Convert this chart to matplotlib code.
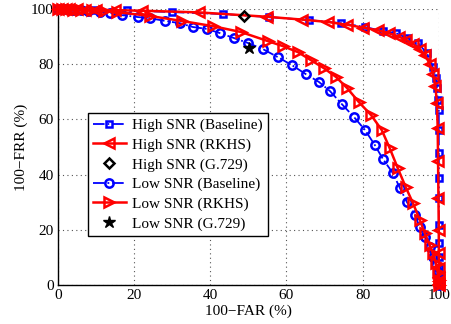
import matplotlib
matplotlib.use("Agg")
import matplotlib.pyplot as plt

# High SNR (Baseline)
hb_x = [0, 1, 2, 4, 6, 9.2, 18, 30, 43.3, 55.4, 66, 74.3, 80.6, 85.3, 88.7, 91.6, 94.5, 96.9, 98.4, 99.2, 99.5, 99.7,
        100, 100, 100, 100, 100, 100, 100, 100, 100, 100, 100, 100]
hb_y = [100, 100, 99.9, 99.9, 99.8, 99.6, 99.5, 98.9, 98.2, 97.1, 96, 94.9, 93.5, 92, 91.3, 89.5, 87.7, 84, 79, 75, 71.4, 67,
        63.4, 56, 47.8, 38.8, 31.5, 21.7, 15.2, 10, 6, 3, 1, 0]

# High SNR (RKHS)
hr_x = [0, 1, 2, 3, 5, 7, 10, 15, 22, 37, 55, 64, 71, 76, 80, 84, 87, 89.5, 91.5, 93.3, 95, 96.4, 97.6, 98.5, 99.1, 99.5,
        99.7, 99.8, 99.9, 100, 100, 100, 100, 100, 100, 100]
hr_y = [100, 100, 100, 99.9, 99.9, 99.8, 99.7, 99.6, 99.4, 98.8, 97.2, 96.2, 95.3, 94.3, 93.3, 92.3, 91.2, 90, 88.8, 87.3,
        85.5, 83.2, 80.2, 76.5, 72, 66, 57, 45, 31.5, 20, 11.6, 6, 3, 1.5, 0.5, 0]

# High SNR (G.729)
hg_x = [48.8]
hg_y = [97.6]

# Low SNR (Baseline)
lb_x = [0, 1, 2, 3.9, 6, 8, 11, 13.6, 16.8, 21, 24.1, 28.1, 32, 35.4, 39.1, 42.5, 46.2, 49.9, 53.8, 57.7, 61.4, 65.1,
        68.5, 71.4, 74.5, 77.7, 80.6, 83.2, 85.3, 87.9, 89.8, 91.6, 93.7, 95, 96.3, 97.6, 98.4, 99.2, 99.7, 100, 100]
lb_y = [100, 100, 99.9, 99.8, 99.6, 99.3, 98.9, 98.6, 97.8, 97.1, 96.7, 95.7, 94.9, 93.5, 92.8, 91.3, 89.5, 87.7, 85.5,
        82.6, 79.7, 76.4, 73.6, 70.3, 65.6, 60.9, 56.2, 50.7, 45.7, 40.6, 35.1, 30.1, 25.4, 21, 17.4, 13.8, 10.1, 7.2,
        4.7, 2.5, 0]

# Low SNR (RKHS)
lr_x = [0, 1, 2, 4, 6, 9, 12, 15.5, 24.1, 32.5, 40.7, 48, 55.1, 59, 63, 66.4, 69.8, 73, 75.9, 79, 82.2, 85, 87.1, 89.2,
        91.3, 93.2, 95, 96.3, 97.6, 98.4, 99.2, 99.7, 100, 100]
lr_y = [100, 100, 99.9, 99.8, 99.7, 99.5, 99.2, 98.9, 97.5, 95.7, 93.8, 91.7, 88.4, 86.6, 84.4, 81.5, 78.6, 75.4, 71.4,
        66.3, 61.6, 56.2, 49.6, 42.4, 35.5, 29.7, 23.6, 18.8, 14.5, 11.6, 8, 4.7, 1.8, 0]

# Low SNR (G.729)
lg_x = [50.1]
lg_y = [85.9]

ticks = [0, 20, 40, 60, 80, 100]

plt.rcParams['font.family'] = ['Liberation Serif', 'DejaVu Serif']
plt.rcParams['mathtext.fontset'] = 'stix'

fig = plt.figure(figsize=(4.51, 3.24), dpi=100)
ax = fig.add_axes([0.1286, 0.1204, 0.973 - 0.1286, 0.972 - 0.1204])

blue = '#0000ff'
red = '#ff0000'

ax.plot(hb_x, hb_y, linestyle='-.', color=blue, lw=1.3, marker='s', ms=5, mfc='none', mew=1.8,
        label='High SNR (Baseline)', clip_on=False, zorder=3)
ax.plot(hr_x, hr_y, linestyle='-', color=red, lw=1.8, marker='<', ms=7, mfc='none', mew=1.8,
        label='High SNR (RKHS)', clip_on=False, zorder=4)
ax.plot(hg_x, hg_y, linestyle='none', color='black', marker='D', ms=5, mfc='none', mew=1.8,
        label='High SNR (G.729)', clip_on=False, zorder=6)
ax.plot(lb_x, lb_y, linestyle='-.', color=blue, lw=1.3, marker='o', ms=6, mfc='none', mew=1.8,
        label='Low SNR (Baseline)', clip_on=False, zorder=3)
ax.plot(lr_x, lr_y, linestyle='-', color=red, lw=1.8, marker='>', ms=7, mfc='none', mew=1.8,
        label='Low SNR (RKHS)', clip_on=False, zorder=4)
ax.plot(lg_x, lg_y, linestyle='none', color='black', marker='*', ms=9,
        label='Low SNR (G.729)', clip_on=False, zorder=6)

ax.set_xlim(0, 100)
ax.set_ylim(0, 100)
ax.set_xticks(ticks)
ax.set_yticks(ticks)
ax.tick_params(direction='in', length=0, labelsize=11, pad=3)
for s in ['top', 'right']:
    ax.spines[s].set_visible(False)
for s in ['left', 'bottom']:
    ax.spines[s].set_linewidth(1.0)
ax.grid(True, linestyle=(0, (1, 3)), color='#555555', lw=0.8)
ax.set_axisbelow(True)

ax.set_xlabel('100\u2212FAR (%)', fontsize=11, labelpad=2)
ax.set_ylabel('100\u2212FRR (%)', fontsize=11, labelpad=2)

leg = ax.legend(loc='lower left', bbox_to_anchor=(0.079, 0.178), fontsize=11, frameon=True, fancybox=False,
                edgecolor='black', framealpha=1, borderpad=0.35, labelspacing=0.38, handlelength=2.1,
                handletextpad=0.45, borderaxespad=0)
leg.get_frame().set_linewidth(1.0)

fig.savefig('out.png', dpi=100)
